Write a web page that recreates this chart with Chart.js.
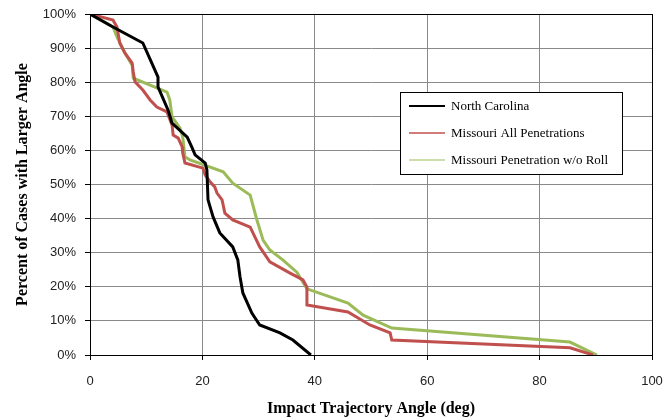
<!DOCTYPE html>
<html>
<head>
<meta charset="utf-8">
<script src="https://cdn.jsdelivr.net/npm/chart.js@4"></script>
<style>
  html, body { margin: 0; padding: 0; background: #fff; }
  #wrap { width: 664px; height: 418px; }
</style>
</head>
<body>
<div id="wrap"><canvas id="chart" width="664" height="418"></canvas></div>
<script>
// North Carolina
const ncAngle = [0, 4.1, 9.4, 11.0, 12.1, 12.1, 13.9, 14.6, 17.3, 18.1, 18.7, 20.5, 20.8, 21.0, 21.9, 23.1, 25.4, 26.3, 26.7, 27.2, 28.8, 30.2, 33.8, 36.1, 39.3];
const ncPct = [100, 96.2, 91.5, 85.6, 81.5, 78.6, 71.8, 68.0, 63.9, 61.0, 58.7, 56.3, 54.3, 45.5, 40.5, 35.8, 31.7, 27.9, 22.9, 18.2, 12.3, 8.8, 6.5, 4.4, 0];

// Missouri All Penetrations
const moAllAngle = [0, 4.1, 4.8, 5.3, 6.2, 7.5, 7.7, 8.0, 9.4, 10.7, 11.9, 13.7, 14.6, 14.8, 15.7, 16.4, 16.5, 16.9, 20.1, 20.5, 21.4, 22.2, 22.6, 23.5, 24.0, 25.4, 28.5, 30.2, 32.0, 35.6, 37.9, 38.6, 38.6, 45.9, 49.8, 53.4, 53.7, 85.4, 89.5];
const moAllPct = [100, 98.2, 96.2, 91.5, 88.6, 85.6, 83.0, 80.1, 77.7, 74.8, 72.7, 71.3, 67.4, 64.5, 63.6, 61.0, 59.2, 56.3, 54.8, 52.8, 50.7, 49.3, 47.5, 45.5, 41.6, 39.6, 37.5, 31.7, 27.3, 24.0, 22.0, 19.9, 14.7, 12.6, 8.8, 6.5, 4.4, 2.1, 0];

// Missouri Penetration w/o Roll
const moNoRollAngle = [0, 4.1, 4.8, 6.2, 7.5, 7.7, 13.7, 14.2, 14.6, 16.0, 16.5, 16.9, 17.8, 23.7, 25.4, 28.5, 29.7, 30.8, 32.0, 34.3, 36.8, 38.6, 45.9, 48.6, 53.7, 85.4, 90.2];
const moNoRollPct = [100, 96.2, 93.3, 88.6, 85.0, 81.2, 77.1, 74.8, 69.8, 66.6, 63.9, 58.1, 57.2, 53.7, 50.4, 46.9, 39.6, 33.7, 30.8, 27.9, 24.3, 19.4, 15.2, 11.7, 7.9, 3.8, 0];

const xTicks = [0, 20, 40, 60, 80, 100];

function pts(xs, ys) {
  return xs.map((x, i) => ({ x: x, y: ys[i] }));
}

// legend box drawn inside the plot, plus a frame around the plot area
const boxLegend = {
  id: 'boxLegend',
  afterDraw(chart) {
    const ctx = chart.ctx;
    const a = chart.chartArea;
    ctx.save();
    ctx.strokeStyle = '#000';
    ctx.lineWidth = 1;
    ctx.strokeRect(a.left + 0.5, a.top + 0.5, a.right - a.left, a.bottom - a.top);

    const bx = 400, by = 92, bw = 222, bh = 82;
    ctx.fillStyle = '#fff';
    ctx.fillRect(bx, by, bw, bh);
    ctx.strokeRect(bx + 0.5, by + 0.5, bw, bh);
    ctx.font = '13px "Liberation Serif", "Times New Roman", serif';
    ctx.textBaseline = 'middle';
    const rowY = [106, 133, 160];
    const widths = [2, 1.5, 1.2];
    chart.data.datasets.forEach((ds, i) => {
      ctx.strokeStyle = ds.borderColor;
      ctx.lineWidth = widths[i];
      ctx.beginPath();
      ctx.moveTo(409, rowY[i]);
      ctx.lineTo(445, rowY[i]);
      ctx.stroke();
      ctx.fillStyle = '#000';
      ctx.fillText(ds.label, 451, rowY[i] + 1);
    });
    ctx.restore();
  }
};

new Chart(document.getElementById('chart'), {
  type: 'scatter',
  data: {
    datasets: [
      { label: 'North Carolina', data: pts(ncAngle, ncPct), borderColor: '#000000' },
      { label: 'Missouri All Penetrations', data: pts(moAllAngle, moAllPct), borderColor: '#C0504D' },
      { label: 'Missouri Penetration w/o Roll', data: pts(moNoRollAngle, moNoRollPct), borderColor: '#9BBB59' }
    ].map(d => Object.assign(d, {
      showLine: true, borderWidth: 3, pointRadius: 0, tension: 0, fill: false
    }))
  },
  options: {
    responsive: false,
    animation: false,
    layout: { padding: { left: 0, right: 12, top: 14, bottom: 0 } },
    plugins: { legend: { display: false }, tooltip: { enabled: false } },
    scales: {
      x: {
        type: 'linear', min: 0, max: 100,
        afterBuildTicks: s => { s.ticks = xTicks.map(v => ({ value: v })); },
        afterFit: s => { s.height = 63; s.paddingLeft = 0; s.paddingRight = 0; },
        grid: { color: '#8a8a8a', tickLength: 5, tickColor: '#000' },
        border: { color: '#000' },
        ticks: { color: '#222', padding: 14, maxRotation: 0,
          font: { family: '"Liberation Sans", Arial, sans-serif', size: 13 } },
        title: { display: true, text: 'Impact Trajectory Angle (deg)', color: '#000',
          padding: { top: 4, bottom: 0 },
          font: { family: '"Liberation Serif", "Times New Roman", serif', size: 16, weight: 'bold' } }
      },
      y: {
        min: 0, max: 100,
        afterFit: s => { s.width = 90; s.paddingTop = 0; s.paddingBottom = 0; },
        grid: { color: '#8a8a8a', tickLength: 5, tickColor: '#000' },
        border: { color: '#000' },
        ticks: { stepSize: 10, color: '#222', padding: 9, callback: v => v + '%',
          font: { family: '"Liberation Sans", Arial, sans-serif', size: 13 } },
        title: { display: true, text: 'Percent of Cases with Larger Angle', color: '#000',
          padding: { top: 13, bottom: 0 },
          font: { family: '"Liberation Serif", "Times New Roman", serif', size: 16, weight: 'bold' } }
      }
    }
  },
  plugins: [boxLegend]
});
</script>
</body>
</html>
